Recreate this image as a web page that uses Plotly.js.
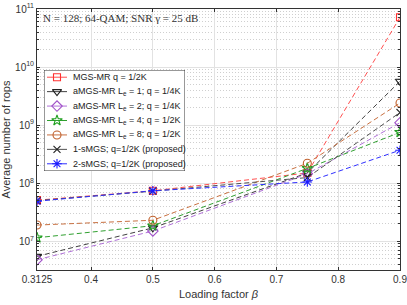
<!DOCTYPE html>
<html>
<head>
<meta charset="utf-8">
<script src="https://cdn.plot.ly/plotly-3.0.1.min.js"></script>
<style>html,body{margin:0;padding:0;background:#fff;}#chart{width:407px;height:305px;}</style>
</head>
<body>
<div id="chart"></div>
<script>
const beta = [0.3125, 0.5, 0.75, 0.9];
const mgsMR = [5.1e7, 7.4e7, 1.5e8, 7.2e10];
const amgsLe1 = [5.5e6, 1.7e7, 1.5e8, 5.7e9];
const amgsLe2 = [4.8e6, 1.5e7, 1.45e8, 1.1e9];
const amgsLe4 = [1.15e7, 1.85e7, 1.8e8, 7.5e8];
const amgsLe8 = [1.9e7, 2.3e7, 2.2e8, 2.4e9];
const sMGS1 = [5.0e7, 7.3e7, 1.25e8, 1.65e9];
const sMGS2 = [4.9e7, 7.4e7, 1.05e8, 3.7e8];
const names = [
  'MGS-MR q = 1/2K',
  'aMGS-MR L<sub>e</sub> = 1; q = 1/4K',
  'aMGS-MR L<sub>e</sub> = 2; q = 1/4K',
  'aMGS-MR L<sub>e</sub> = 4; q = 1/2K',
  'aMGS-MR L<sub>e</sub> = 8; q = 1/2K',
  '1-sMGS; q=1/2K (proposed)',
  '2-sMGS; q=1/2K (proposed)'
];
const xTicks = [0.3125, 0.4, 0.5, 0.6, 0.7, 0.8, 0.9];
const xTickText = ['0.3125', '0.4', '0.5', '0.6', '0.7', '0.8', '0.9'];
const yTicks = [1e7, 1e8, 1e9, 1e10, 1e11];
const yTickText = ['10<sup>7</sup>', '10<sup>8</sup>', '10<sup>9</sup>', '10<sup>10</sup>', '10<sup>11</sup>'];

const series = [mgsMR, amgsLe1, amgsLe2, amgsLe4, amgsLe8, sMGS1, sMGS2];
const colors = ['#ff3030', '#202020', '#a050c8', '#20a020', '#c0602c', '#202020', '#1a1aff'];
const lineColors = ['#ff5050', '#404040', '#b070d8', '#30a030', '#c87040', '#505050', '#3030ff'];
const symbols = ['square-open', 'triangle-down-open', 'diamond-open', 'star-open', 'circle-open', 'x-thin-open', 'asterisk-open'];
const sizes = [7, 8, 8, 8, 8, 7, 8];

const traces = series.map((s, i) => ({
  x: beta, y: s, name: names[i], type: 'scatter', mode: 'lines+markers',
  showlegend: false,
  line: {color: lineColors[i], width: 1, dash: '5px,3px'},
  marker: {symbol: symbols[i], size: sizes[i], color: colors[i], line: {color: colors[i], width: 1.1}},
  cliponaxis: true
}));

// Compact legend drawn on an overlay subplot (x2/y2) in legend-box units
const nItems = names.length;
const legendW = 141;
names.forEach((nm, i) => {
  const yc = nItems - 0.5 - i;
  traces.push({
    x: [3, 23], y: [yc, yc], xaxis: 'x2', yaxis: 'y2', type: 'scatter', mode: 'lines',
    showlegend: false, hoverinfo: 'skip',
    line: {color: lineColors[i], width: 1}
  });
  traces.push({
    x: [13], y: [yc], xaxis: 'x2', yaxis: 'y2', type: 'scatter', mode: 'markers',
    showlegend: false, hoverinfo: 'skip',
    marker: {symbol: symbols[i], size: sizes[i], color: colors[i], line: {color: colors[i], width: 1.1}}
  });
});

const legendAnnots = names.map((nm, i) => ({
  xref: 'x2', yref: 'y2', x: 27, y: nItems - 0.5 - i, xanchor: 'left', yanchor: 'middle',
  text: nm, showarrow: false, font: {size: 9, color: '#222'}
}));

const plotL = 37, plotR = 400, plotT = 9, plotB = 270;
const pw = plotR - plotL, ph = plotB - plotT;
const legL = 44, legR = 185, legT = 70, legB = 171;

const layout = {
  width: 407, height: 305,
  margin: {l: plotL, r: 407 - plotR, t: plotT, b: 305 - plotB},
  paper_bgcolor: '#fff', plot_bgcolor: '#fff',
  font: {family: 'Liberation Sans, Arial, sans-serif', size: 10, color: '#333'},
  showlegend: false,
  xaxis: {
    range: [0.3125, 0.9], tickvals: xTicks, ticktext: xTickText,
    ticklabeloverflow: 'allow',
    showgrid: true, gridcolor: '#e2e2e2', gridwidth: 1,
    zeroline: false, showline: true, linecolor: '#333', linewidth: 1, mirror: 'ticks',
    ticks: 'inside', ticklen: 3, tickcolor: '#333',
    tickfont: {size: 10, color: '#333'},
    title: {text: 'Loading factor <i>β</i>', font: {size: 11, color: '#333'}, standoff: 6}
  },
  yaxis: {
    type: 'log', range: [6.505, 11], tickvals: yTicks, ticktext: yTickText,
    ticklabeloverflow: 'allow',
    showgrid: true, gridcolor: '#e2e2e2', gridwidth: 1,
    zeroline: false, showline: true, linecolor: '#333', linewidth: 1, mirror: 'ticks',
    ticks: 'inside', ticklen: 3, tickcolor: '#333',
    tickfont: {size: 10, color: '#333'},
    minor: {dtick: 'D1', showgrid: true, gridcolor: '#cfcfcf', griddash: '1px,2px', gridwidth: 1, ticks: 'inside', ticklen: 2, tickcolor: '#333'},
    title: {text: 'Average number of rops', font: {size: 11, color: '#333'}, standoff: 4}
  },
  xaxis2: {
    domain: [(legL - plotL) / pw, (legR - plotL) / pw], range: [0, legendW],
    anchor: 'y2', visible: false, fixedrange: true
  },
  yaxis2: {
    domain: [(plotB - legB) / ph, (plotB - legT) / ph], range: [0, nItems],
    anchor: 'x2', visible: false, fixedrange: true
  },
  shapes: [{
    type: 'rect', xref: 'x2', yref: 'y2', x0: 0, x1: legendW, y0: 0, y1: nItems,
    layer: 'below', fillcolor: '#fff', line: {color: '#333', width: 1}
  }],
  annotations: [{
    xref: 'paper', yref: 'paper', x: 0.012, y: 0.995, xanchor: 'left', yanchor: 'top',
    text: 'N = 128; 64-QAM; SNR γ = 25 dB', showarrow: false,
    font: {family: 'Liberation Serif, DejaVu Serif, serif', size: 11, color: '#333'}
  }].concat(legendAnnots)
};

Plotly.newPlot('chart', traces, layout, {displayModeBar: false, staticPlot: true});
</script>
</body>
</html>
